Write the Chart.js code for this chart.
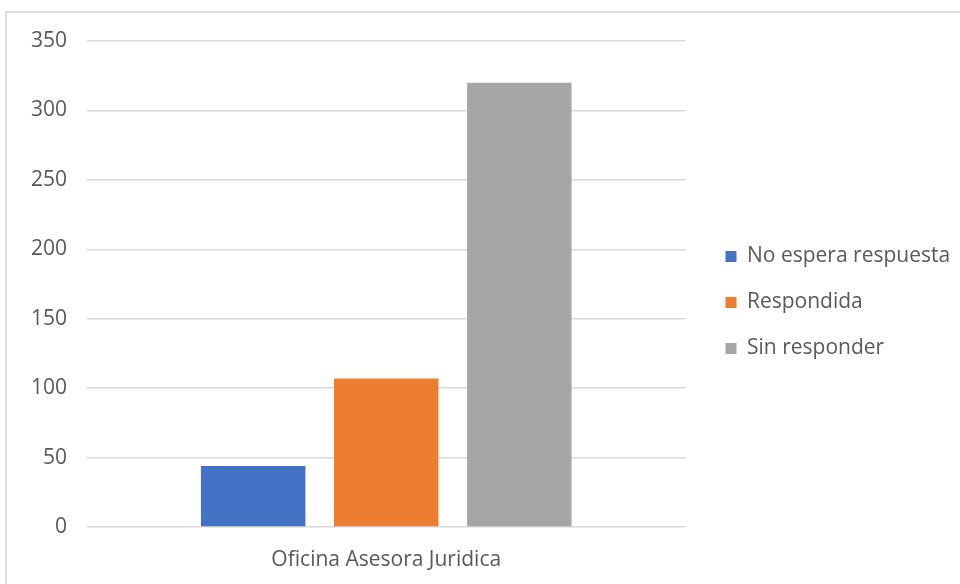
<!DOCTYPE html>
<html>
<head>
<meta charset="utf-8">
<script src="https://cdn.jsdelivr.net/npm/chart.js@4"></script>
<style>
  html, body { margin: 0; padding: 0; background: #fff; overflow: hidden; }
  #wrap { position: relative; width: 960px; height: 584px; }
  #frame { position: absolute; left: 5px; top: 11px; width: 1000px; height: 700px; border: 2px solid #dedede; box-sizing: border-box; }
  canvas { position: absolute; left: 0; top: 0; }
</style>
</head>
<body>
<div id="wrap">
  <div id="frame"></div>
  <canvas id="chart" width="960" height="584"></canvas>
</div>
<script>
const categories = ["Oficina Asesora Juridica"];
const seriesNames = ["No espera respuesta", "Respondida", "Sin responder"];
const noEspera = [44];
const respondida = [107];
const sinResponder = [320];
const colors = ["#4472C4", "#ED7D31", "#A5A5A5"];

const font = "'Open Sans', 'Noto Sans', sans-serif";

// nudge the legend away from the plot, keeping the plot width
const legendShift = {
    id: "legendShift",
    afterLayout(chart) {
        const lg = chart.legend;
        if (!lg) return;
        lg.left += 15;
        lg.right = chart.width;
        lg.top -= 10;
        lg.bottom -= 10;
    },
};

new Chart(document.getElementById("chart").getContext("2d"), {
    type: "bar",
    data: {
        labels: categories,
        datasets: [
            { label: seriesNames[0], data: noEspera, backgroundColor: colors[0] },
            { label: seriesNames[1], data: respondida, backgroundColor: colors[1] },
            { label: seriesNames[2], data: sinResponder, backgroundColor: colors[2] },
        ],
    },
    options: {
        responsive: false,
        animation: false,
        categoryPercentage: 0.667,
        barPercentage: 0.785,
        layout: { padding: { top: 41, bottom: 0, left: 0, right: 46 } },
        plugins: {
            tooltip: { enabled: false },
            legend: {
                position: "right",
                align: "center",
                labels: {
                    color: "#595959",
                    font: { family: font, size: 21 },
                    boxWidth: 11,
                    boxHeight: 11,
                    padding: 25,
                },
            },
        },
        scales: {
            x: {
                grid: { display: false, drawTicks: false },
                border: { display: false },
                ticks: {
                    color: "#595959",
                    font: { family: font, size: 21 },
                    padding: 20,
                },
                afterFit: (scale) => {
                    scale.height = 57;
                },
            },
            y: {
                min: 0,
                max: 350,
                ticks: {
                    stepSize: 50,
                    color: "#595959",
                    font: { family: font, size: 21 },
                    padding: 20,
                },
                grid: { color: "#d9d9d9", lineWidth: 1.5, drawTicks: false },
                border: { display: false },
                afterFit: (scale) => {
                    scale.width = 87;
                },
            },
        },
    },
    plugins: [legendShift],
});
</script>
</body>
</html>
